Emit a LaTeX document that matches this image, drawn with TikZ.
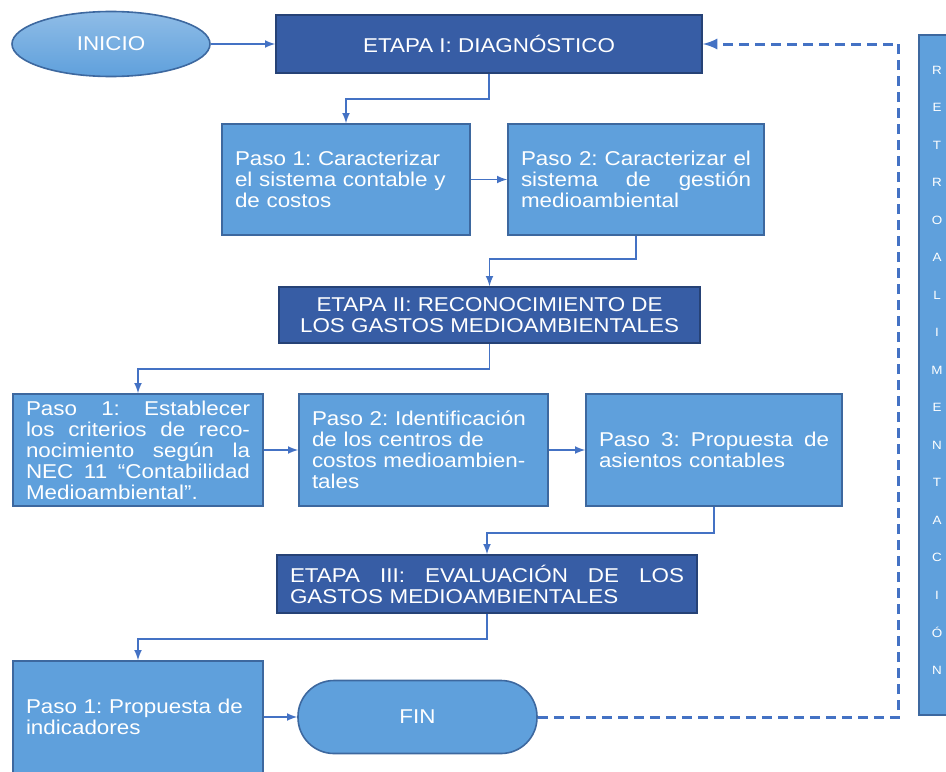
\documentclass[tikz,border=0pt]{standalone}
\usepackage{fontspec}
\setmainfont{Liberation Sans}[FakeStretch=1.12]
\usetikzlibrary{shapes.geometric}
\definecolor{claro}{RGB}{95,160,220}
\definecolor{oscuro}{RGB}{55,93,165}
\definecolor{borde}{RGB}{38,66,118}
\definecolor{conector}{RGB}{68,114,196}
\newcommand{\linea}[1]{{\spaceskip=0pt\xspaceskip=0pt\makebox[\linewidth][s]{#1}}}
\tikzset{
  >=latex,
}
\tikzstyle{etapa}=[rectangle,fill=oscuro,draw=borde,line width=.8pt,text=white,
  inner xsep=6.5pt,inner ysep=0pt,minimum height=29pt,font=\fontsize{10}{10.5}\selectfont]
\tikzstyle{paso}=[rectangle,fill=claro,draw=borde!60!claro,line width=.8pt,text=white,
  inner xsep=6.5pt,inner ysep=0pt,minimum height=56pt,align=left,font=\fontsize{10}{10.5}\selectfont]
\tikzstyle{extremo}=[fill=claro,draw=borde!60!claro,line width=.8pt,text=white,
  font=\fontsize{10}{10.5}\selectfont]
\tikzstyle{letra}=[text=white,inner sep=0pt,font=\fontsize{6}{6}\selectfont]
\tikzstyle{flecha}=[conector,line width=.75pt,->]
\tikzstyle{retorno}=[conector,line width=1.5pt,dash pattern=on 5pt off 3pt,->]

\begin{document}
\frenchspacing
\begin{tikzpicture}[x=.5pt,y=-.5pt]
    \clip (0,0) rectangle (946,771);

    \node[extremo,ellipse,minimum width=99pt,minimum height=32.5pt,inner sep=0pt,
      top color=claro!70!white,bottom color=claro] (inicio) at (111,44) {INICIO};

    % etapa I
    \node[etapa,minimum width=213pt] (e1) at (489,44) {ETAPA I: DIAGNÓSTICO};
    \node[paso,text width=111pt,minimum height=55.5pt] (p11) at (346,179.5)
      {Paso 1: Caracterizar\\el sistema contable y\\de costos};
    \node[paso,text width=115pt,minimum height=55.5pt] (p12) at (636,179.5)
      {\linea{Paso 2: Caracterizar el}\\\linea{sistema de gestión}\\medioambiental};

    % etapa II
    \node[etapa,minimum width=210.5pt,minimum height=28pt,align=center] (e2) at (489.5,315)
      {ETAPA II: RECONOCIMIENTO DE\\LOS GASTOS MEDIOAMBIENTALES};
    \node[paso,text width=112pt] (p21) at (138,450)
      {\linea{Paso 1: Establecer}\\\linea{los criterios de reco-}\\\linea{nocimiento según la}\\
       \linea{NEC 11 “Contabilidad}\\Medioambiental”.};
    \node[paso,text width=111.5pt] (p22) at (423.5,450)
      {Paso 2: Identificación\\de los centros de\\costos medioambien-\\tales};
    \node[paso,text width=115pt] (p23) at (714,450)
      {\linea{Paso 3: Propuesta de}\\asientos contables};

    % etapa III
    \node[etapa,text width=197pt,align=left] (e3) at (487,584)
      {\linea{ETAPA III: EVALUACIÓN DE LOS}\\GASTOS MEDIOAMBIENTALES};
    \node[paso,text width=112pt] (p31) at (138,717)
      {Paso 1: Propuesta de\\indicadores};

    \node[extremo,rectangle,rounded corners=18pt,minimum width=119.5pt,minimum height=36.5pt]
      (fin) at (417.5,717) {FIN};

    % retroalimentacion
    \node[extremo,rectangle,minimum width=18.5pt,minimum height=340pt] (retro) at (937.5,375) {};
    \foreach \l [count=\i from 0] in {R,E,T,R,O,A,L,I,M,E,N,T,A,C,I,Ó,N}
      \node[letra] (letra\i) at (937,70+37.5*\i) {\l};

    \draw[flecha] (inicio.east) -- (inicio.east -| e1.west);
    \draw[flecha] (e1.south) -- ++(0,25) -| (p11.north);
    \draw[flecha] (p11.east) -- (p12.west);
    \draw[flecha] (p12.south) -- ++(0,23) -| (e2.north);
    \draw[flecha] (e2.south) -- ++(0,25) -| (p21.north);
    \draw[flecha] (p21.east) -- (p22.west);
    \draw[flecha] (p22.east) -- (p23.west);
    \draw[flecha] (p23.south) -- ++(0,26) -| (e3.north);
    \draw[flecha] (e3.south) -- ++(0,25) -| (p31.north);
    \draw[flecha] (p31.east) -- (fin.west);
    \draw[retorno] (fin.east) -- ++(361,0) |- (e1.east);
  \end{tikzpicture}
\end{document}
